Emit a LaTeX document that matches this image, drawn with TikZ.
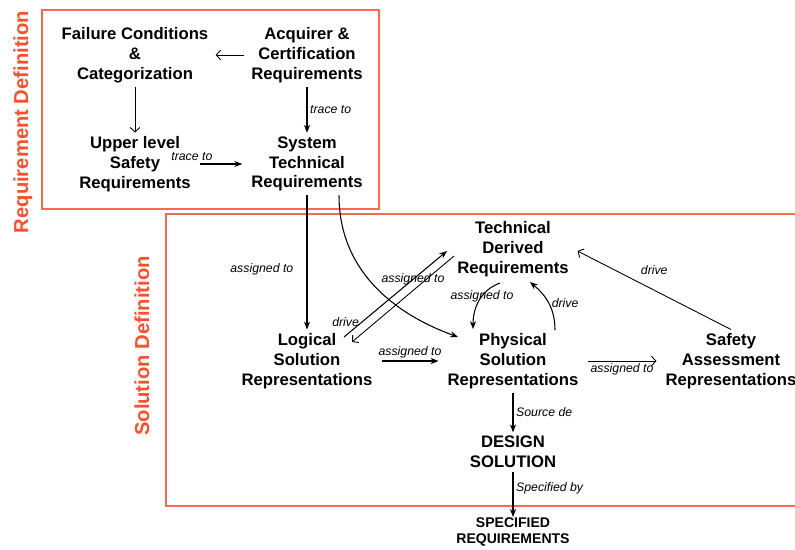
\documentclass[tikz,border=0pt]{standalone}
\usepackage{fontspec}
\setmainfont{Liberation Sans}
\usetikzlibrary{arrows.meta,calc}
\definecolor{defred}{RGB}{250,80,45}
\definecolor{boxred}{RGB}{250,105,80}

\begin{document}
\begin{tikzpicture}[x=0.02cm, y=-0.02cm,
  box/.style={align=center, font=\fontsize{9.5}{11.3}\selectfont\bfseries, inner sep=2pt},
  lbl/.style={font=\fontsize{7}{8}\selectfont\itshape, inner sep=1.5pt},
  flow/.style={line width=0.6pt, -{Stealth[length=4.5pt, width=3.5pt]}},
  open/.style={line width=0.5pt, -{Straight Barb[length=2.5pt, width=5.5pt]}},
  frame/.style={draw=boxred, line width=0.9pt},
  title/.style={rotate=90, text=defred, font=\fontsize{11.5}{13}\selectfont\bfseries}]
\useasboundingbox (0,0) rectangle (795,549);

\draw[frame] (42,10) rectangle (379,209);
\draw[frame] (795,214) -| (166,506) -- (795,506);
\node[title] (reqdef) at (23,122) {Requirement Definition};
\node[title] (soldef) at (142,346) {Solution Definition};

\node[box] (fail) at (135,55) {Failure Conditions\\\&\\Categorization};
\node[box] (acq) at (307,55) {Acquirer \&\\Certification\\Requirements};
\node[box] (upp) at (135,164) {Upper level\\Safety\\Requirements};
\node[box] (sys) at (307,164) {System\\Technical\\Requirements};
\node[box] (tec) at (513,249) {Technical\\Derived\\Requirements};
\node[box] (log) at (307,361) {Logical\\Solution\\Representations};
\node[box] (phy) at (513,361) {Physical\\Solution\\Representations};
\node[box] (saf) at (731,361) {Safety\\Assessment\\Representations};
\node[box] (des) at (513,452) {DESIGN\\SOLUTION};
\node[box, font=\fontsize{8}{9.6}\selectfont\bfseries] (spec) at (513,532) {SPECIFIED\\REQUIREMENTS};

\draw[open, shorten <=2pt, shorten >=2pt] (acq) -- (fail);
\draw[open] (fail) -- (upp);
\draw[flow] (acq) -- (sys) node[lbl, midway, right] (t1) {trace to};
\draw[flow, shorten <=3pt, shorten >=3pt] (upp) -- (sys) node[lbl, pos=-0.05, above] (t2) {trace to};

\draw[flow] (sys) -- (log) node[lbl, pos=0.55, left=6pt] (a1) {assigned to};
\draw[flow] ($(sys.south)+(32,0)$) to[out=-90, in=160] ($(phy)+(-55,-24)$);
\draw[flow] ($(log)+(37,-24)$) -- ($(tec)+(-66,2)$) node[lbl, pos=0.67] (a2) {assigned to};
\draw[open] ($(tec)+(-59,7)$) -- ($(log)+(45,-19)$) node[lbl, pos=0.85, left=3pt, yshift=4pt] (d1) {drive};
\draw[flow] ($(tec)+(-13,34)$) to[out=200, in=90] node[lbl, pos=0.4] (a5) {assigned to} ($(phy)+(-40,-32)$);
\draw[flow] ($(phy)+(42,-31)$) to[out=90, in=-40] node[lbl, pos=0.5, right] (d2) {drive} ($(tec)+(17,33)$);
\draw[flow, shorten <=3pt, shorten >=3pt] (log) -- (phy) node[lbl, midway, above] (a3) {assigned to};
\draw[open, shorten <=3pt, shorten >=3pt] (phy) -- (saf) node[lbl, midway, below] (a4) {assigned to};
\draw[open] (saf.north) -- ($(tec.east)+(5,2)$) node[lbl, midway, above=7pt] (d3) {drive};

\draw[flow] (phy) -- (des) node[lbl, midway, right] (s1) {Source de};
\draw[flow, shorten >=-2pt] (des) -- (spec.north) node[lbl, pos=0.4, right] (s2) {Specified by};
\end{tikzpicture}
\end{document}
